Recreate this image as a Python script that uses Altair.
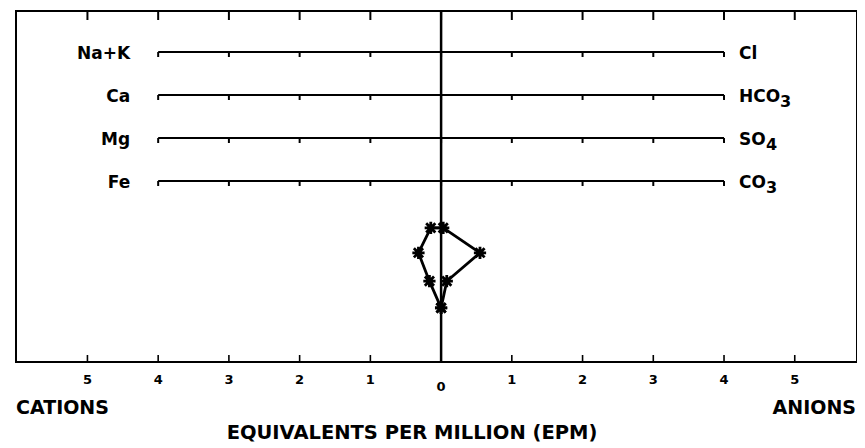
import altair as alt
import pandas as pd

# ---------------- data ----------------
CATION_LABELS = ["Na+K", "Ca", "Mg", "Fe"]
ANION_BASE = ["Cl", "HCO", "SO", "CO"]
ANION_SUB = ["", "3", "4", "3"]
CATION_EPM = [0.146, 0.32, 0.165, 0.0]
ANION_EPM = [0.03, 0.55, 0.08, 0.0]
ROW_LEVEL = [1, 2, 3, 4]
POLY_LEVEL = [5.09, 5.67, 6.33, 6.95]
AXIS_TICKS = [-5, -4, -3, -2, -1, 0, 1, 2, 3, 4, 5]
ROW_TICKS = [-4, -3, -2, -1, 0, 1, 2, 3, 4]
ROW_EXTENT = [-4, 4]
X_DOMAIN = [-6.01, 5.88]
Y_DOMAIN = [0.0465, 8.21]

# ---------------- layout ----------------
W, H = 841, 351
FONT = "DejaVu Sans"
PX_PER_LEVEL = H / (Y_DOMAIN[1] - Y_DOMAIN[0])
SUB_DX = {"HCO": 41, "SO": 27, "CO": 27}

xs = alt.Scale(domain=X_DOMAIN, nice=False, zero=False)
ys = alt.Scale(domain=Y_DOMAIN, nice=False, zero=False, reverse=True)


def X(f="x"):
    return alt.X(f, type="quantitative", scale=xs, axis=None)


def Y(f="y"):
    return alt.Y(f, type="quantitative", scale=ys, axis=None)


# center line
center_df = pd.DataFrame({"x": [0]})
center = alt.Chart(center_df).mark_rule(color="black", strokeWidth=2.5).encode(
    x=X(), y=alt.value(0), y2=alt.value(H)
)

# frame ticks (inward)
tick_df = pd.DataFrame({"x": AXIS_TICKS})
top_ticks = alt.Chart(tick_df).mark_rule(color="black", strokeWidth=2).encode(
    x=X(), y=alt.value(0), y2=alt.value(9)
)
bot_ticks = alt.Chart(tick_df).mark_rule(color="black", strokeWidth=1.6).encode(
    x=X(), y=alt.value(H), y2=alt.value(H - 7)
)

# row lines
row_df = pd.DataFrame({
    "x": [ROW_EXTENT[0]] * 4, "x2": [ROW_EXTENT[1]] * 4, "y": ROW_LEVEL,
    "cat": CATION_LABELS, "an": ANION_BASE,
})
row_lines = alt.Chart(row_df).mark_rule(color="black", strokeWidth=2).encode(
    x=X(), x2="x2", y=Y()
)
rt = [(t, lv) for lv in ROW_LEVEL for t in ROW_TICKS]
rt_df = pd.DataFrame({"x": [a for a, b in rt], "y": [b for a, b in rt]})
rt_df["y2"] = rt_df["y"] + 5 / PX_PER_LEVEL
row_ticks = alt.Chart(rt_df).mark_rule(color="black", strokeWidth=2).encode(
    x=X(), y=Y(), y2="y2"
)

txt = dict(font=FONT, fontWeight="bold", color="black", baseline="middle")
left_lab = alt.Chart(row_df).mark_text(align="right", dx=-28, dy=2, fontSize=17, **txt).encode(
    x=X(), y=Y(), text="cat:N"
)
right_lab = alt.Chart(row_df).mark_text(align="left", dx=15, dy=2, fontSize=17, **txt).encode(
    x=X("x2"), y=Y(), text="an:N"
)
sub_layers = []
for base, sub, lv in zip(ANION_BASE, ANION_SUB, ROW_LEVEL):
    if not sub:
        continue
    d = pd.DataFrame({"x": [ROW_EXTENT[1]], "y": [lv], "t": [sub]})
    sub_layers.append(
        alt.Chart(d).mark_text(align="left", dx=15 + SUB_DX[base], dy=7, fontSize=16, **txt).encode(
            x=X(), y=Y(), text="t:N"
        )
    )

# polygon
px = [-c for c in CATION_EPM] + ANION_EPM[::-1] + [-CATION_EPM[0]]
py = POLY_LEVEL + POLY_LEVEL[::-1] + [POLY_LEVEL[0]]
poly_df = pd.DataFrame({"x": px, "y": py, "o": list(range(len(px)))})
poly = alt.Chart(poly_df).mark_line(color="black", strokeWidth=2.8).encode(
    x=X(), y=Y(), order="o:Q"
)
STAR = "M-1,0L1,0M0,-1L0,1M-0.75,-0.75L0.75,0.75M-0.75,0.75L0.75,-0.75"
pts = alt.Chart(poly_df.iloc[:-1]).mark_point(
    shape=STAR, size=150, filled=False, color="black", strokeWidth=2.8, opacity=1
).encode(x=X(), y=Y())

# tick labels
tl_df = pd.DataFrame({"x": [t for t in AXIS_TICKS if t != 0]})
tl_df["t"] = tl_df["x"].abs().astype(str)
tick_labels = alt.Chart(tl_df).mark_text(fontSize=13, align="center", **txt).encode(
    x=X(), y=alt.value(369), text="t:N"
)
zero_label = alt.Chart(pd.DataFrame({"x": [0], "t": ["0"]})).mark_text(
    fontSize=13, align="center", **txt
).encode(x=X(), y=alt.value(376), text="t:N")

side_df = pd.DataFrame({"x": [X_DOMAIN[0]], "x2": [X_DOMAIN[1]], "a": ["CATIONS"], "b": ["ANIONS"]})
cat_title = alt.Chart(side_df).mark_text(align="left", fontSize=19, **txt).encode(
    x=X(), y=alt.value(397), text="a:N"
)
an_title = alt.Chart(side_df).mark_text(align="right", dx=-1, fontSize=19, **txt).encode(
    x=X("x2"), y=alt.value(397), text="b:N"
)
main_title = alt.Chart(pd.DataFrame({"t": ["EQUIVALENTS PER MILLION  (EPM)"]})).mark_text(
    align="center", fontSize=19.5, **txt
).encode(x=alt.value(396), y=alt.value(422), text="t:N")

chart = alt.layer(
    center, top_ticks, bot_ticks, row_lines, row_ticks, left_lab, right_lab, *sub_layers,
    poly, pts, tick_labels, zero_label, cat_title, an_title, main_title,
).properties(
    width=W, height=H,
    autosize=alt.AutoSizeParams(type="none"),
    padding={"left": 8, "top": 3, "right": 0, "bottom": 84},
    background="white",
).configure_view(stroke="black", strokeWidth=2)

chart.save("out.html", embed_options={"renderer": "svg", "actions": False})
